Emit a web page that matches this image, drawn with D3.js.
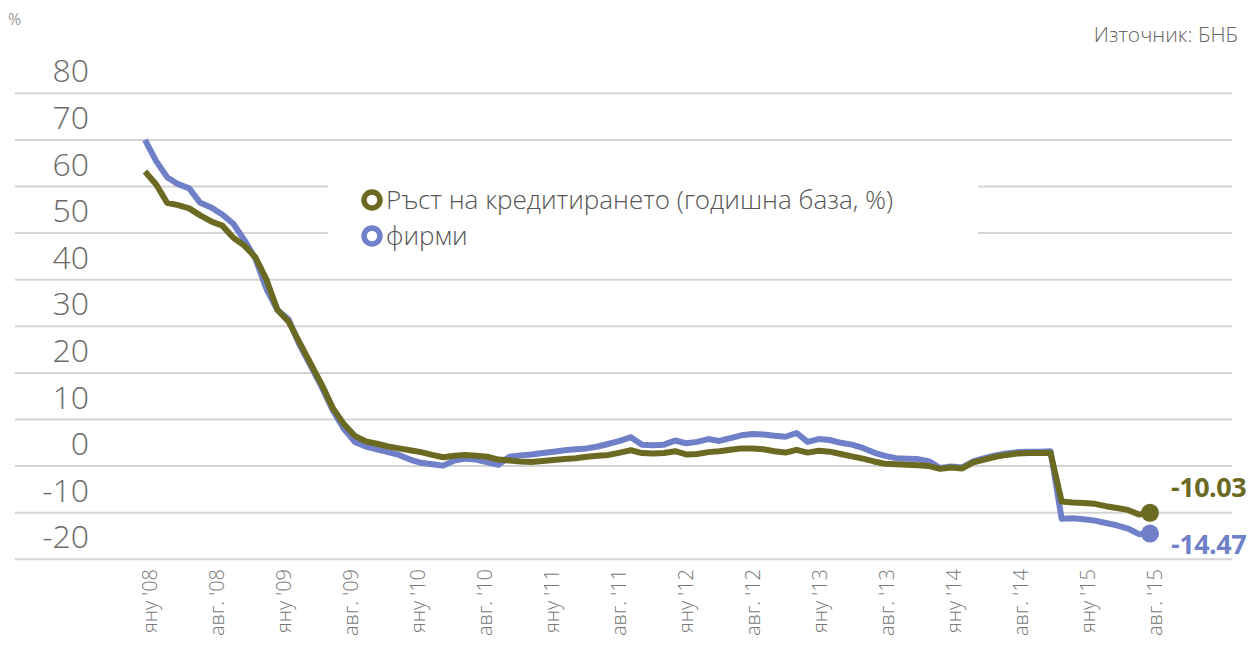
<!DOCTYPE html>
<html lang="bg">
<head>
<meta charset="utf-8">
<script src="https://cdn.jsdelivr.net/npm/d3@7"></script>
<style>
	body { margin: 0; background: #fff; }
	text { font-family: "Open Sans", "Noto Sans", sans-serif; }
</style>
</head>
<body>
<div id="app"></div>
<script>
// Credit growth chart, monthly, Jan 2008 .. Aug 2015.

var tickLabels = ["яну '08", "авг. '08", "яну '09", "авг. '09", "яну '10", "авг. '10",
	"яну '11", "авг. '11", "яну '12", "авг. '12", "яну '13", "авг. '13",
	"яну '14", "авг. '14", "яну '15", "авг. '15"];
var yTicks = [80, 70, 60, 50, 40, 30, 20, 10, 0, -10, -20];

// Total credit growth (year on year, %)
var totalGrowth = [63.2, 60.5, 56.5, 56, 55.3, 53.8, 52.5, 51.6, 49, 47.3,
	44.8, 40, 33.5, 31, 26.5, 22, 17.5, 12.5, 9, 6.5,
	5.3, 4.8, 4.2, 3.8, 3.4, 3.0, 2.4, 1.9, 2.2, 2.4,
	2.2, 2.0, 1.4, 1.2, 1.0, 0.9, 1.1, 1.3, 1.5, 1.7,
	2.0, 2.2, 2.4, 2.9, 3.4, 2.8, 2.7, 2.8, 3.2, 2.5,
	2.6, 3.0, 3.2, 3.5, 3.8, 3.8, 3.6, 3.2, 2.9, 3.5,
	2.9, 3.3, 3.1, 2.6, 2.1, 1.6, 1.0, 0.5, 0.4, 0.3,
	0.2, 0.0, -0.6, -0.3, -0.5, 0.8, 1.4, 2.0, 2.4, 2.7,
	2.8, 2.8, 2.8, -7.6, -7.8, -7.9, -8.1, -8.6, -9.0, -9.4,
	-10.4, -10.03];

// Companies
var firmsGrowth = [70, 65.5, 62, 60.5, 59.6, 56.5, 55.5, 54, 52, 48.5,
	44.5, 38, 33.5, 31.5, 26, 21.5, 17, 12, 8, 5.2,
	4.2, 3.6, 3.0, 2.4, 1.4, 0.7, 0.4, 0.1, 1.2, 1.6,
	1.4, 0.8, 0.3, 2.0, 2.3, 2.5, 2.8, 3.1, 3.4, 3.6,
	3.8, 4.2, 4.8, 5.4, 6.2, 4.6, 4.5, 4.6, 5.5, 4.9,
	5.2, 5.8, 5.4, 6.0, 6.6, 6.9, 6.8, 6.5, 6.3, 7.1,
	5.2, 5.8, 5.6, 5.0, 4.6, 3.9, 2.9, 2.2, 1.7, 1.6,
	1.5, 1.0, -0.4, -0.1, -0.3, 1.0, 1.7, 2.3, 2.7, 3.0,
	3.1, 3.1, 3.2, -11.3, -11.2, -11.4, -11.7, -12.2, -12.7, -13.4,
	-14.6, -14.47];

var seriesNames = ["Ръст на кредитирането (годишна база, %)", "фирми"];
var colors = ["#6b6a22", "#7080c8"];

var width = 1251, height = 652;
var x0 = 145, x1 = 1150;	// plot extent
var yTop = 93.3, yBottom = 559.3;

var vis = d3.select("#app")
	.append("svg")
	.attr("width", width)
	.attr("height", height);

var x = d3.scaleLinear().domain([0, totalGrowth.length - 1]).range([x0, x1]);
var y = d3.scaleLinear().domain([-20, 80]).range([yBottom, yTop]);

// Grid lines, labels sit above their line.
var grid = vis.append("g");
grid.selectAll("line")
	.data(yTicks)
	.enter().append("line")
	.attr("x1", 15).attr("x2", 1232)
	.attr("y1", function (d) {return y(d);})
	.attr("y2", function (d) {return y(d);})
	.attr("stroke", "#d4d4d4").attr("stroke-width", 2);
grid.selectAll("text")
	.data(yTicks)
	.enter().append("text")
	.attr("x", 89)
	.attr("y", function (d) {return y(d) - 11;})
	.attr("text-anchor", "end")
	.attr("fill", "#6b6b6b")
	.style("font-size", "32px").style("font-weight", 300)
	.text(function (d) {return d;});

// x-axis labels, rotated, spread evenly along the months.
var nLab = tickLabels.length;
var xLab = vis.append("g");
xLab.selectAll("text")
	.data(tickLabels)
	.enter().append("text")
	.attr("transform", function (d, i)
	{
		var xi = x(i * (totalGrowth.length - 1) / (nLab - 1)) + 5;
		return "translate(" + xi + ",569) rotate(-90)";
	})
	.attr("dy", "0.35em")
	.attr("text-anchor", "end")
	.attr("fill", "#777")
	.style("font-size", "20px").style("font-weight", 300)
	.text(function (d) {return d;});

// Legend box hides the grid behind it.
vis.append("rect")
	.attr("x", 328).attr("y", 162)
	.attr("width", 650).attr("height", 94)
	.attr("fill", "#fff");

var legend = vis.append("g");
seriesNames.forEach(function (name, i)
{
	var ly = 200 + i * 36;
	legend.append("circle")
		.attr("cx", 372).attr("cy", ly)
		.attr("r", 8)
		.attr("fill", "#fff")
		.attr("stroke", colors[i]).attr("stroke-width", 5.5);
	legend.append("text")
		.attr("x", 386).attr("y", ly)
		.attr("dy", "0.35em")
		.attr("fill", "#555")
		.style("font-size", "26px").style("font-weight", 300)
		.text(name);
});

// Lines, blue first so the olive one sits on top.
var line = d3.line()
	.x(function (d, i) {return x(i);})
	.y(function (d) {return y(d);});

[firmsGrowth, totalGrowth].forEach(function (series, k)
{
	var c = colors[1 - k];
	vis.append("path")
		.datum(series)
		.attr("d", line)
		.attr("fill", "none")
		.attr("stroke", c)
		.attr("stroke-width", 6)
		.attr("stroke-linejoin", "round");
	var last = series.length - 1;
	vis.append("circle")
		.attr("cx", x(last)).attr("cy", y(series[last]))
		.attr("r", 9)
		.attr("fill", c);
});

// End values
vis.append("text")
	.attr("x", 1171).attr("y", y(totalGrowth[totalGrowth.length - 1]) - 25)
	.attr("dy", "0.35em")
	.attr("fill", colors[0])
	.style("font-size", "27px").style("font-weight", "bold")
	.style("letter-spacing", "-0.5px")
	.text(totalGrowth[totalGrowth.length - 1].toFixed(2));
vis.append("text")
	.attr("x", 1171).attr("y", y(firmsGrowth[firmsGrowth.length - 1]) + 11)
	.attr("dy", "0.35em")
	.attr("fill", colors[1])
	.style("font-size", "27px").style("font-weight", "bold")
	.style("letter-spacing", "-0.5px")
	.text(firmsGrowth[firmsGrowth.length - 1].toFixed(2));

// Unit and source
vis.append("text")
	.attr("x", 8).attr("y", 25)
	.attr("fill", "#999")
	.style("font-size", "16px")
	.text("%");
vis.append("text")
	.attr("x", 1238).attr("y", 42)
	.attr("text-anchor", "end")
	.attr("fill", "#666")
	.style("font-size", "21px").style("font-weight", 300)
	.text("Източник: БНБ");
</script>
</body>
</html>
